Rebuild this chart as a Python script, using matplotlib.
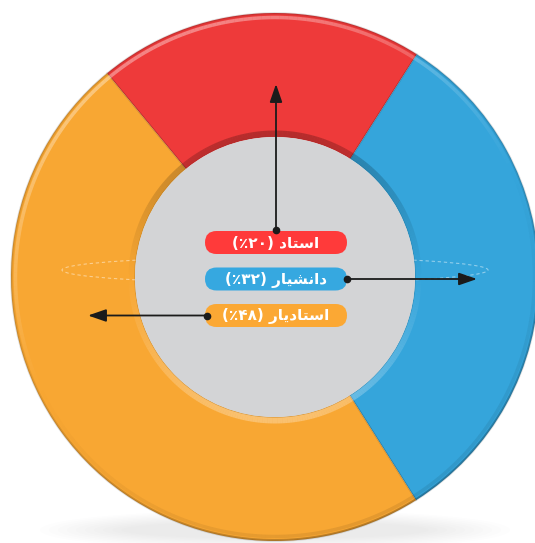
import re
import numpy as np
import matplotlib
matplotlib.use("Agg")
import matplotlib.pyplot as plt
from matplotlib.patches import Circle, Ellipse, FancyBboxPatch
from matplotlib.collections import LineCollection

# ---------------- data ----------------
names = ["استاد", "دانشیار", "استادیار"]
values = [20, 32, 48]
ring_colors = ["#EE3A3A", "#35A5DB", "#F8A733"]
pill_colors = ["#FF3A3A", "#36A8E0", "#FBA834"]

# ---------------- minimal Persian shaping ----------------
FORMS = {
    'ا': ('\uFE8D', '\uFE8E', None, None),
    'د': ('\uFEA9', '\uFEAA', None, None),
    'ر': ('\uFEAD', '\uFEAE', None, None),
    'س': ('\uFEB1', '\uFEB2', '\uFEB3', '\uFEB4'),
    'ش': ('\uFEB5', '\uFEB6', '\uFEB7', '\uFEB8'),
    'ت': ('\uFE95', '\uFE96', '\uFE97', '\uFE98'),
    'ن': ('\uFEE5', '\uFEE6', '\uFEE7', '\uFEE8'),
    'ی': ('\uFBFC', '\uFBFD', '\uFBFE', '\uFBFF'),
}


def shape(s):
    out = []
    for i, c in enumerate(s):
        if c not in FORMS:
            out.append(c)
            continue
        f = FORMS[c]
        prev = s[i - 1] if i > 0 else ''
        nxt = s[i + 1] if i + 1 < len(s) else ''
        jp = prev in FORMS and FORMS[prev][2] is not None
        jn = f[2] is not None and nxt in FORMS
        if jp and jn:
            g = f[3]
        elif jp:
            g = f[1]
        elif jn:
            g = f[2]
        else:
            g = f[0]
        out.append(g)
    return ''.join(out)


def visual(s):
    shaped = shape(s)
    mirror = {'(': ')', ')': '('}
    runs = re.findall(r'[\u06F0-\u06F9]+|.', shaped)
    return ''.join(mirror.get(r, r) for r in reversed(runs))


PERSIAN = str.maketrans("0123456789", "۰۱۲۳۴۵۶۷۸۹")
labels = [f"{n} ({str(v).translate(PERSIAN)}٪)" for n, v in zip(names, values)]

# ---------------- figure ----------------
W, H = 535, 543
fig = plt.figure(figsize=(W / 100, H / 100), dpi=100)
ax = fig.add_axes([0, 0, 1, 1])
PT = 0.72  # points per pixel

cx, cy = 275, H - 277
R_out, R_in = 264, 140

# soft shadow under the donut
for k in range(10):
    ax.add_patch(Ellipse((cx, H - 530), 470 - 18 * k, 40 - 2.5 * k,
                         color="#9a9aaa", alpha=0.018, lw=0, zorder=0))

wedges, _ = ax.pie(values, colors=ring_colors, startangle=129.5, counterclock=False,
                   radius=R_out, center=(cx, cy),
                   wedgeprops=dict(width=R_out - R_in, edgecolor=(0, 0, 0, 0.12),
                                   linewidth=1.2))
for w in wedges:
    w.set_zorder(1)

# outer bevel: highlight on upper-left, shade on lower-right
th = np.linspace(0, 2 * np.pi, 361)
segs_hi, cols_hi = [], []
for a0, a1 in zip(th[:-1], th[1:]):
    f = np.cos((a0 + a1) / 2 - np.deg2rad(115))
    r = R_out - 4.5
    segs_hi.append([(cx + r * np.cos(a0), cy + r * np.sin(a0)),
                    (cx + r * np.cos(a1), cy + r * np.sin(a1))])
    if f > 0:
        cols_hi.append((1, 1, 1, 0.38 * f))
    else:
        cols_hi.append((0, 0, 0, 0.08 * -f))
ax.add_collection(LineCollection(segs_hi, colors=cols_hi, linewidths=3.5 * PT,
                                 capstyle="butt", zorder=2))
segs_o, cols_o = [], []
for a0, a1 in zip(th[:-1], th[1:]):
    f = np.cos((a0 + a1) / 2 - np.deg2rad(115))
    r = R_out - 1
    segs_o.append([(cx + r * np.cos(a0), cy + r * np.sin(a0)),
                   (cx + r * np.cos(a1), cy + r * np.sin(a1))])
    cols_o.append((0, 0, 0, 0.08 + 0.16 * max(0, -f)))
ax.add_collection(LineCollection(segs_o, colors=cols_o, linewidths=2 * PT,
                                 capstyle="butt", zorder=2))

# inner bevel: shadow at top, light rim at bottom
segs_in, cols_in = [], []
for a0, a1 in zip(th[:-1], th[1:]):
    f = np.sin((a0 + a1) / 2)
    r = R_in + 3.5
    segs_in.append([(cx + r * np.cos(a0), cy + r * np.sin(a0)),
                    (cx + r * np.cos(a1), cy + r * np.sin(a1))])
    if f > 0:
        cols_in.append((0, 0, 0, 0.24 * f))
    else:
        cols_in.append((1, 1, 1, 0.30 * -f))
ax.add_collection(LineCollection(segs_in, colors=cols_in, linewidths=6 * PT,
                                 capstyle="butt", zorder=2))

# faint dashed ellipse (3D guide)
ax.add_patch(Ellipse((cx, H - 270), 426, 26, fill=False, ec=(1, 1, 1, 0.45),
                     lw=0.8, ls=(0, (3, 2.5)), zorder=3))

# inner grey disc
ax.add_patch(Circle((cx, cy), R_in, color="#D3D4D6", lw=0, zorder=4))

# pills with labels
pill_w, pill_h = 142, 23
pill_x = 276
pill_y = [H - 242.5, H - 279, H - 315.5]
for lab, col, py in zip(labels, pill_colors, pill_y):
    ax.add_patch(FancyBboxPatch((pill_x - pill_w / 2, py - pill_h / 2), pill_w, pill_h,
                                boxstyle=f"round,pad=0,rounding_size={pill_h / 2}",
                                fc=col, ec="none", zorder=5))
    ax.text(pill_x, py - 0.5, visual(lab), ha="center", va="center", color="white",
            fontsize=11, fontweight="bold", family=["DejaVu Sans"], zorder=6)

# arrows
arrow_color = "#1b1b1b"
arrows = [
    ((pill_x, pill_y[0] + pill_h / 2 + 1), (pill_x, H - 84)),
    ((pill_x + pill_w / 2, pill_y[1]), (477, pill_y[1])),
    ((pill_x - pill_w / 2 + 2, pill_y[2]), (88, pill_y[2])),
]
for start, end in arrows:
    ax.annotate("", xy=end, xytext=start,
                arrowprops=dict(arrowstyle="-|>,head_length=1.1,head_width=0.38",
                                color=arrow_color, lw=1.3, shrinkA=0, shrinkB=0),
                zorder=7)
    ax.plot([start[0]], [start[1]], "o", color=arrow_color, ms=4.5, zorder=8)

ax.set_xlim(0, W)
ax.set_ylim(0, H)
ax.set_aspect("equal")
ax.axis("off")
fig.savefig("out.png", dpi=100, facecolor="white")
